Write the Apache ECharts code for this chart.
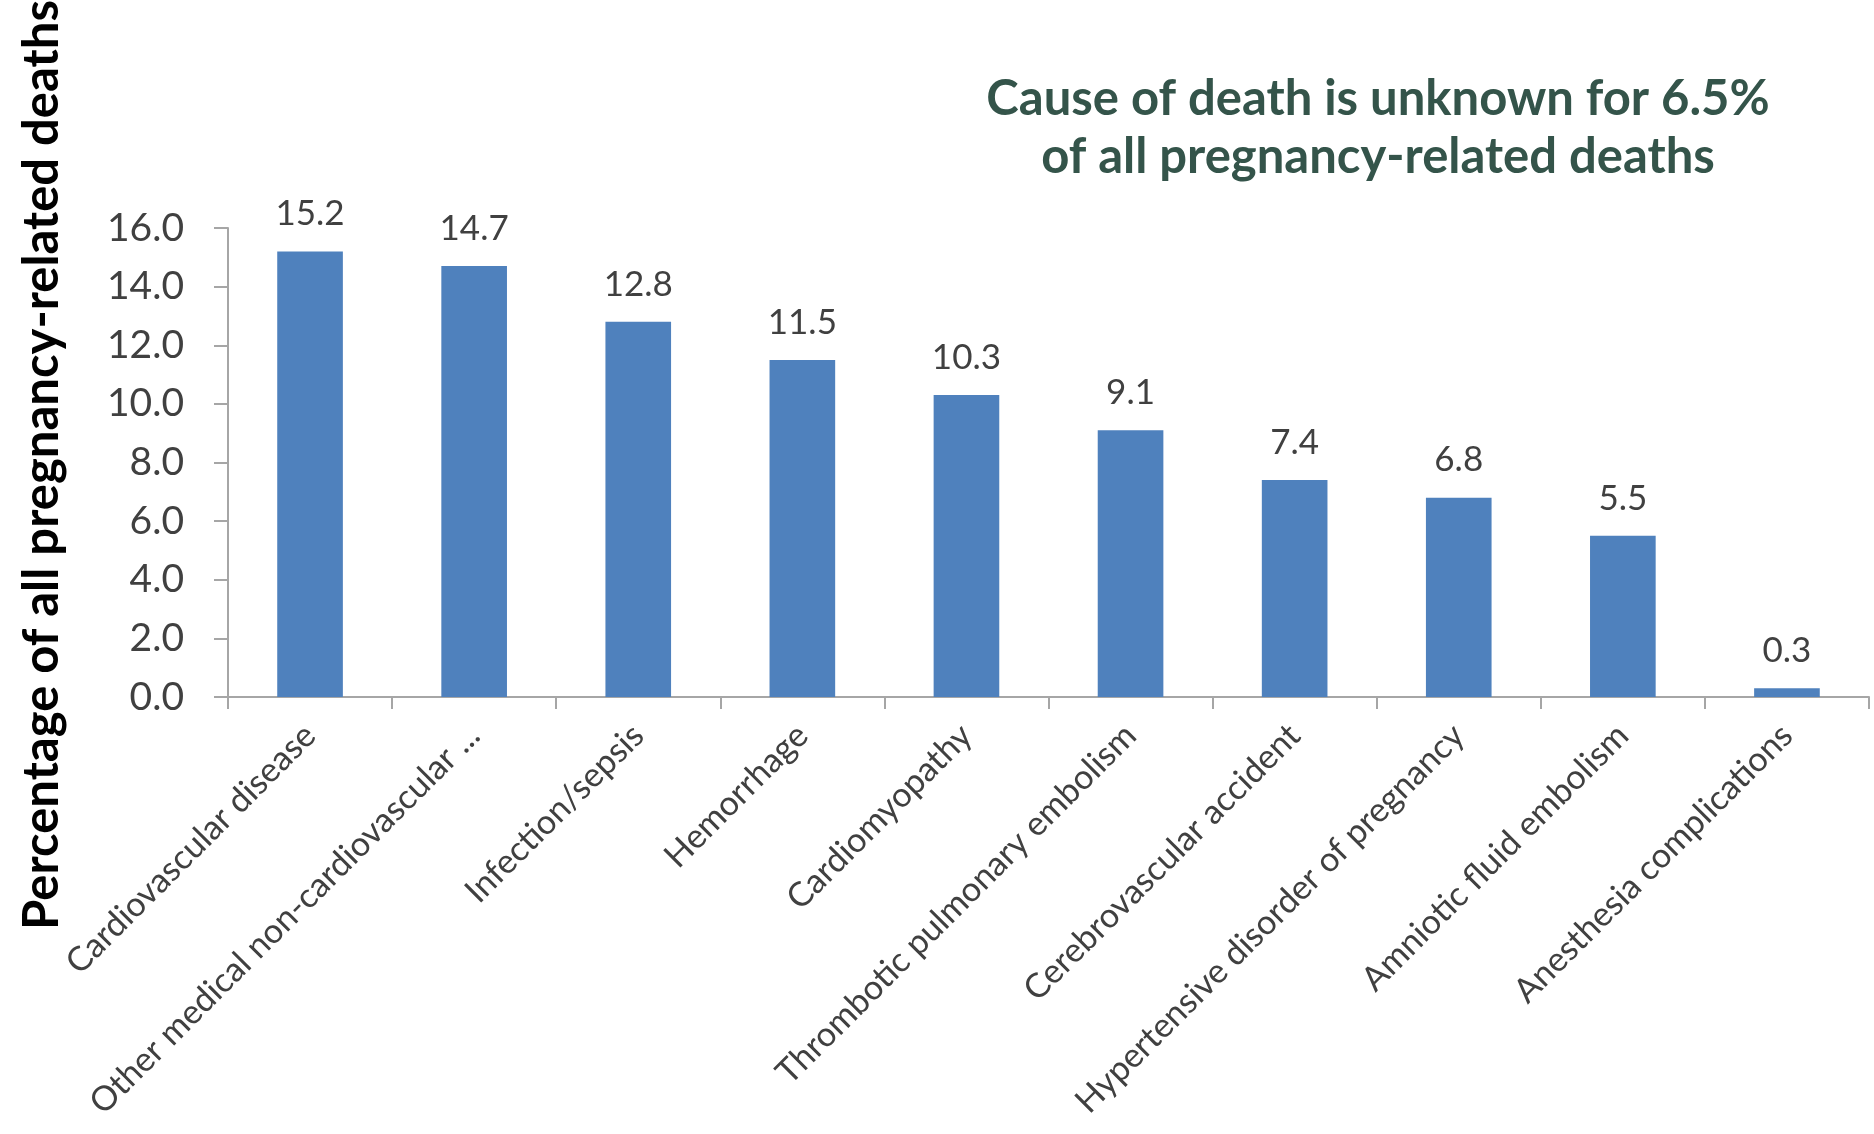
<!DOCTYPE html>
<html>
<head>
<meta charset="utf-8">
<script src="https://cdn.jsdelivr.net/npm/echarts@6/dist/echarts.min.js"></script>
<style>
html,body{margin:0;padding:0;background:#fff;}
#chart{width:1874px;height:1134px;}
</style>
</head>
<body>
<div id="chart"></div>
<script>
const categories = [
  "Cardiovascular disease",
  "Other medical non-cardiovascular ...",
  "Infection/sepsis",
  "Hemorrhage",
  "Cardiomyopathy",
  "Thrombotic pulmonary embolism",
  "Cerebrovascular accident",
  "Hypertensive disorder of pregnancy",
  "Amniotic fluid embolism",
  "Anesthesia complications"
];
const values = [15.2, 14.7, 12.8, 11.5, 10.3, 9.1, 7.4, 6.8, 5.5, 0.3];
const yAxisTitle = "Percentage of all pregnancy-related deaths";
const noteLines = ["Cause of death is unknown for 6.5%", "of all pregnancy-related deaths"];

const chart = echarts.init(document.getElementById('chart'));
const font = 'Lato, "Open Sans", sans-serif';
chart.setOption({
  animation: false,
  backgroundColor: '#ffffff',
  grid: {left: 228, right: 5, top: 228, bottom: 437, containLabel: false},
  xAxis: {
    type: 'category',
    data: categories,
    axisLine: {show: true, lineStyle: {color: '#a6a6a6', width: 2}},
    axisTick: {show: true, length: 12, lineStyle: {color: '#a6a6a6', width: 2}},
    axisLabel: {rotate: 45, margin: 33, color: '#404040', fontSize: 34, fontFamily: font, interval: 0}
  },
  yAxis: {
    type: 'value',
    min: 0, max: 16, interval: 2,
    splitLine: {show: false},
    axisLine: {show: true, lineStyle: {color: '#a6a6a6', width: 2}},
    axisTick: {show: true, length: 14, lineStyle: {color: '#a6a6a6', width: 2}},
    axisLabel: {margin: 44, color: '#404040', fontSize: 39, fontFamily: font,
      formatter: v => v.toFixed(1)}
  },
  series: [{
    type: 'bar',
    data: values,
    barWidth: '40%',
    itemStyle: {color: '#4f81bd'},
    label: {show: true, position: 'top', distance: 20, color: '#404040', fontSize: 35,
      fontFamily: font, formatter: p => p.value.toFixed(1)}
  }],
  graphic: [
    {type: 'text', x: 42, y: 465, rotation: Math.PI / 2,
      style: {text: yAxisTitle, font: 'bold 49px ' + font, fill: '#000000',
        textAlign: 'center', textVerticalAlign: 'middle'}},
    {type: 'text', x: 1378, y: 70,
      style: {text: noteLines.join('\n'), font: 'bold 49px ' + font, fill: '#34544a',
        textAlign: 'center', textVerticalAlign: 'top', lineHeight: 58}}
  ]
});
</script>
</body>
</html>
